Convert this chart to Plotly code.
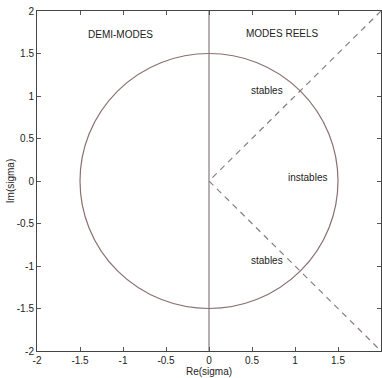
import plotly.graph_objects as go

# data
radius = 1.5
dash_x = [2, 0, 2]
dash_y = [2, 0, -2]
axis_x = [0, 0]
axis_y = [-2, 2]
tick_vals = [-2, -1.5, -1, -0.5, 0, 0.5, 1, 1.5, 2]
tick_text = ["-2", "-1.5", "-1", "-0.5", "0", "0.5", "1", "1.5", "2"]
labels = ["DEMI-MODES", "MODES REELS", "stables", "instables", "stables"]
label_x = [-1.03, 0.86, 0.68, 1.14, 0.68]
label_y = [1.72, 1.74, 1.07, 0.04, -0.93]

line_col = "#8a7070"
fig = go.Figure()
fig.add_trace(go.Scatter(x=axis_x, y=axis_y, mode="lines",
                         line=dict(color="#8f8585", width=1.3), hoverinfo="skip"))
fig.add_trace(go.Scatter(x=dash_x, y=dash_y, mode="lines",
                         line=dict(color="#8a7d7d", width=1.2, dash="6px,5px"), hoverinfo="skip"))
fig.add_shape(type="circle", xref="x", yref="y", x0=-radius, y0=-radius, x1=radius, y1=radius,
              line=dict(color=line_col, width=1.2))

for t, x, y in zip(labels, label_x, label_y):
    fig.add_annotation(x=x, y=y, text=t, showarrow=False,
                       font=dict(family="Liberation Sans, Arial", size=10, color="#222"))

axis_common = dict(range=[-2, 2], tickvals=tick_vals, ticktext=tick_text, ticks="inside",
                   ticklen=4, tickcolor="#555", showline=True, linecolor="#444", linewidth=1,
                   mirror="ticks", showgrid=False, zeroline=False,
                   tickfont=dict(family="Liberation Sans, Arial", size=10, color="#222"))
fig.update_xaxes(**axis_common, title=dict(text="Re(sigma)", standoff=0,
                 font=dict(family="Liberation Sans, Arial", size=10, color="#222")))
fig.update_yaxes(**axis_common, title=dict(text="Im(sigma)", standoff=0,
                 font=dict(family="Liberation Sans, Arial", size=10, color="#222")))
fig.update_layout(width=382, height=378, margin=dict(l=37, r=1, t=11, b=27),
                  plot_bgcolor="white", paper_bgcolor="white", showlegend=False)
fig.write_html("out.html")
